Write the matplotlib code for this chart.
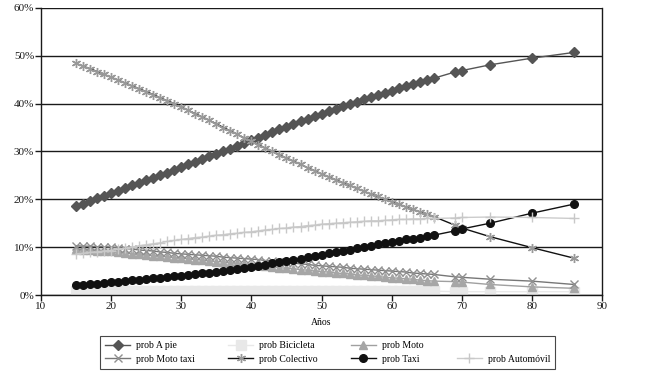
import matplotlib.pyplot as plt
from matplotlib.lines import Line2D

plt.rcParams['font.family'] = ['Liberation Serif', 'DejaVu Serif']

# edades: 15..66 cada año, luego unos pocos puntos dispersos
edades = list(range(15, 67)) + [69, 70, 74, 80, 86]

a_pie = [18.5, 19.1, 19.6, 20.2, 20.7, 21.3, 21.8, 22.4, 22.9, 23.5,
         24.0, 24.5, 25.1, 25.6, 26.2, 26.7, 27.3, 27.8, 28.4, 29.0,
         29.5, 30.1, 30.6, 31.2, 31.7, 32.3, 32.9, 33.4, 34.0, 34.6,
         35.2, 35.7, 36.3, 36.8, 37.4, 37.9, 38.4, 38.9, 39.4, 39.9,
         40.4, 40.9, 41.4, 41.8, 42.3, 42.7, 43.2, 43.6, 44.1, 44.5,
         44.9, 45.3,
         46.6, 46.9, 48.1, 49.5, 50.7]
bicicleta = [0.9, 0.9, 0.9, 0.9, 0.9, 0.9, 0.9, 0.9, 0.9, 0.9,
             0.9, 0.9, 0.9, 0.9, 0.9, 0.9, 0.9, 0.9, 0.9, 0.9,
             0.9, 0.9, 0.9, 0.9, 0.9, 0.8, 0.8, 0.8, 0.8, 0.8,
             0.8, 0.8, 0.8, 0.8, 0.8, 0.8, 0.8, 0.8, 0.8, 0.8,
             0.8, 0.8, 0.8, 0.8, 0.8, 0.8, 0.8, 0.8, 0.8, 0.8,
             0.8, 0.8,
             0.7, 0.7, 0.7, 0.7, 0.7]
moto = [9.6, 9.5, 9.4, 9.3, 9.2, 9.1, 8.9, 8.8, 8.6, 8.5,
        8.4, 8.2, 8.1, 8.0, 7.8, 7.7, 7.6, 7.4, 7.3, 7.1,
        7.0, 6.9, 6.7, 6.6, 6.4, 6.3, 6.2, 6.0, 5.9, 5.7,
        5.6, 5.5, 5.3, 5.2, 5.0, 4.9, 4.8, 4.6, 4.5, 4.4,
        4.2, 4.1, 4.0, 3.9, 3.7, 3.6, 3.5, 3.4, 3.3, 3.1,
        3.0, 2.9,
        2.8, 2.7, 2.2, 1.7, 1.4]
moto_taxi = [10.3, 10.2, 10.2, 10.1, 10.1, 10.0, 9.9, 9.7, 9.6, 9.4,
             9.3, 9.2, 9.0, 8.9, 8.7, 8.6, 8.5, 8.4, 8.3, 8.2,
             8.1, 7.9, 7.8, 7.7, 7.6, 7.5, 7.4, 7.2, 7.1, 6.9,
             6.8, 6.7, 6.5, 6.4, 6.2, 6.1, 6.0, 5.9, 5.8, 5.6,
             5.5, 5.4, 5.3, 5.2, 5.1, 5.0, 4.9, 4.8, 4.6, 4.5,
             4.4, 4.3,
             3.8, 3.7, 3.3, 2.9, 2.2]
colectivo = [48.4, 47.8, 47.3, 46.7, 46.1, 45.5, 44.9, 44.3, 43.7, 43.1,
             42.5, 41.9, 41.2, 40.6, 40.0, 39.3, 38.6, 37.9, 37.2, 36.5,
             35.8, 35.0, 34.3, 33.6, 32.8, 32.1, 31.4, 30.7, 30.0, 29.3,
             28.6, 28.0, 27.3, 26.6, 26.0, 25.3, 24.7, 24.1, 23.5, 22.9,
             22.3, 21.7, 21.1, 20.6, 20.0, 19.5, 19.0, 18.4, 17.9, 17.4,
             16.9, 16.4,
             14.6, 14.0, 12.2, 9.9, 7.7]
taxi = [2.0, 2.1, 2.3, 2.4, 2.6, 2.7, 2.8, 2.9, 3.1, 3.2,
        3.3, 3.5, 3.6, 3.7, 3.9, 4.0, 4.2, 4.3, 4.5, 4.7,
        4.9, 5.0, 5.2, 5.4, 5.6, 5.8, 6.1, 6.3, 6.6, 6.8,
        7.1, 7.4, 7.6, 7.9, 8.1, 8.4, 8.7, 8.9, 9.2, 9.5,
        9.8, 10.0, 10.3, 10.6, 10.8, 11.1, 11.3, 11.6, 11.8, 12.0,
        12.3, 12.5,
        13.4, 13.8, 15.0, 17.1, 19.0]
automovil = [8.6, 8.7, 8.9, 9.0, 9.2, 9.3, 9.6, 9.8, 10.0, 10.3,
             10.5, 10.7, 10.9, 11.2, 11.4, 11.6, 11.8, 12.0, 12.1, 12.3,
             12.5, 12.6, 12.8, 12.9, 13.1, 13.2, 13.4, 13.6, 13.7, 13.9,
             14.0, 14.2, 14.3, 14.5, 14.6, 14.8, 14.9, 15.0, 15.1, 15.2,
             15.3, 15.4, 15.5, 15.5, 15.6, 15.7, 15.8, 15.8, 15.9, 15.9,
             16.0, 16.0,
             16.1, 16.2, 16.3, 16.2, 16.0]

fig = plt.figure(figsize=(6.46, 3.77), dpi=100)
ax = fig.add_axes([0.0635, 0.2175, 0.8685, 0.7615])

ax.set_xlim(10, 90)
ax.set_ylim(0, 60)
ax.set_xticks(range(10, 91, 10))
ax.set_yticks(range(0, 61, 10))
ax.set_yticklabels([f'{v}%' for v in range(0, 61, 10)])
ax.yaxis.grid(True, color='#1a1a1a', linewidth=1.0)
ax.set_axisbelow(True)
for s in ['left', 'bottom', 'right']:
    ax.spines[s].set_color('#1a1a1a')
    ax.spines[s].set_linewidth(1.0)
ax.spines['top'].set_visible(False)
ax.tick_params(axis='both', labelsize=8, colors='#1a1a1a', length=4,
               width=1, direction='out', pad=1)
ax.set_xlabel('Años', fontsize=7, labelpad=5)

h_pie, = ax.plot(edades, a_pie, color='#555555', lw=1, marker='D', ms=5.5,
                 mfc='#555555', mec='#555555', label='prob A pie')
h_bic, = ax.plot(edades, bicicleta, color='#e8e8e8', lw=1, marker='s', ms=7,
                 mfc='#e8e8e8', mec='#e8e8e8', label='prob Bicicleta')
h_mot, = ax.plot(edades, moto, color='#a0a0a0', lw=1, marker='^', ms=5.5,
                 mfc='#a6a6a6', mec='#a6a6a6', label='prob Moto')
h_mtx, = ax.plot(edades, moto_taxi, color='#777777', lw=1, marker='x', ms=5.5,
                 mew=1, mec='#909090', label='prob Moto taxi')
h_col, = ax.plot(edades, colectivo, color='#111111', lw=1, marker=(6, 2, 0),
                 ms=6.5, mew=1, mec='#999999', label='prob Colectivo')
h_tax, = ax.plot(edades, taxi, color='#111111', lw=1, marker='o', ms=5.5,
                 mfc='#111111', mec='#111111', label='prob Taxi')
h_aut, = ax.plot(edades, automovil, color='#cccccc', lw=1, marker='+', ms=7,
                 mew=1, mec='#c8c8c8', label='prob Automóvil')

blank = Line2D([], [], linestyle='none', marker='none')
handles = [h_pie, h_mtx, h_bic, h_col, h_mot, h_tax, blank, h_aut]
labels = [h.get_label() for h in handles]
labels[6] = ''
leg = fig.legend(handles, labels, ncol=4, loc='lower center',
                 bbox_to_anchor=(0.507, 0.008), fontsize=7, frameon=True,
                 fancybox=False, edgecolor='#1a1a1a', handlelength=2.6,
                 handletextpad=0.6, columnspacing=3.4, labelspacing=0.45,
                 borderpad=0.55)
leg.get_frame().set_linewidth(0.8)

fig.savefig('out.png', dpi=100)
